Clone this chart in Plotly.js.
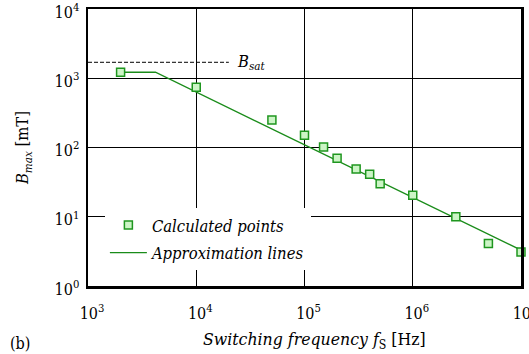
<!DOCTYPE html>
<html>
<head>
<meta charset="utf-8">
<script src="https://cdn.plot.ly/plotly-3.0.1.min.js"></script>
<style>html,body{margin:0;padding:0;background:#fff;}#chart{width:529px;height:354px;}</style>
</head>
<body>
<div id="chart"></div>
<script>
// Calculated points
var calcFreq = [2e3, 1e4, 5e4, 1e5, 1.5e5, 2e5, 3e5, 4e5, 5e5, 1e6, 2.5e6, 5e6, 1e7];
var calcB    = [1220, 740, 250, 150, 102, 70, 49, 41, 30, 20.4, 10, 4.1, 3.1];
// Approximation line
var approxFreq = [2e3, 4.2e3, 1e7];
var approxB    = [1220, 1220, 3.3];
// Saturation flux density
var bsatFreq = [1e3, 2e4];
var bsatB    = [1700, 1700];
// Ticks
var xTickVals = [1e3, 1e4, 1e5, 1e6, 1e7];
var xTickText = ['10<sup>3</sup>', '10<sup>4</sup>', '10<sup>5</sup>', '10<sup>6</sup>', '10<sup>7</sup>'];
var yTickVals = [1, 10, 100, 1000, 10000];
var yTickText = ['10<sup>0</sup>', '10<sup>1</sup>', '10<sup>2</sup>', '10<sup>3</sup>', '10<sup>4</sup>'];

var serif = '"DejaVu Serif Condensed", "DejaVu Serif"';

var traces = [
  {x: bsatFreq, y: bsatB, mode: 'lines', showlegend: false, hoverinfo: 'skip',
   line: {color: '#000', width: 1, dash: '4px,2px'}},
  {x: approxFreq, y: approxB, mode: 'lines', name: '<i>Approximation lines</i>',
   legendgroup: 'b', legendrank: 2, line: {color: '#1a8c1a', width: 1.3}},
  {x: calcFreq, y: calcB, mode: 'markers', name: '<i>Calculated points</i>',
   legendgroup: 'a', legendrank: 1, cliponaxis: false,
   marker: {symbol: 'square', size: 8, color: '#ccf5c6', line: {color: '#1f961f', width: 1.5}}}
];

var layout = {
  width: 529, height: 354,
  margin: {l: 88, r: 8, t: 9, b: 68},
  paper_bgcolor: '#fff', plot_bgcolor: '#fff',
  font: {family: serif, size: 16, color: '#000'},
  showlegend: true,
  legend: {x: 0.039, y: 0.282, xanchor: 'left', yanchor: 'top', bgcolor: '#fff',
           borderwidth: 0, font: {family: serif, size: 16.5, color: '#000'},
           itemwidth: 37, traceorder: 'grouped', tracegroupgap: 3},
  xaxis: {type: 'log', range: [3, 7], tickvals: xTickVals, ticktext: xTickText,
          ticklabeloverflow: 'allow', ticklabelshift: 4, ticklabelstandoff: 11,
          showgrid: true, gridcolor: '#000', gridwidth: 1, zeroline: false,
          showline: true, linecolor: '#000', linewidth: 2.5, mirror: true, ticks: ''},
  yaxis: {type: 'log', range: [0, 4], tickvals: yTickVals, ticktext: yTickText,
          ticklabeloverflow: 'allow', ticklabelshift: 3, ticklabelstandoff: 3,
          showgrid: true, gridcolor: '#000', gridwidth: 1, zeroline: false,
          showline: true, linecolor: '#000', linewidth: 2.5, mirror: true, ticks: '',
          title: {text: '<i>B</i><sub><i>max</i></sub> [mT]', standoff: 22,
                  font: {family: serif, size: 16.5, color: '#000'}}},
  annotations: [
    {x: 0.522, y: -0.195, xref: 'paper', yref: 'paper',
     text: '<i>Switching frequency f</i><sub>S</sub> [Hz]', showarrow: false,
     xanchor: 'center', yanchor: 'middle', font: {family: serif, size: 17.5, color: '#000'}},
    {x: Math.log10(bsatFreq[1]), y: Math.log10(bsatB[0]), xref: 'x', yref: 'y',
     text: '<i>B</i><sub><i>sat</i></sub>', showarrow: false, xanchor: 'left', yanchor: 'middle',
     xshift: 6, font: {family: serif, size: 16.5, color: '#000'}},
    {x: -0.185, y: -0.206, xref: 'paper', yref: 'paper', text: '(b)', showarrow: false,
     xanchor: 'left', yanchor: 'middle', font: {family: serif, size: 16, color: '#000'}}
  ]
};

Plotly.newPlot('chart', traces, layout, {staticPlot: true, displayModeBar: false});
</script>
</body>
</html>
